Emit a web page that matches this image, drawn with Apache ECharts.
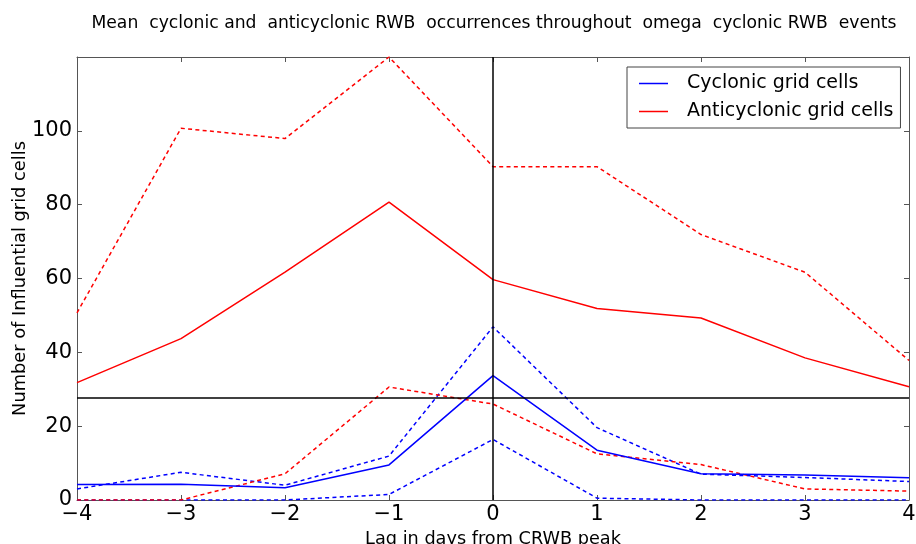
<!DOCTYPE html>
<html>
<head>
<meta charset="utf-8">
<script src="https://cdn.jsdelivr.net/npm/echarts@6/dist/echarts.min.js"></script>
<style>
  html, body { margin: 0; padding: 0; background: #fff; }
  #main { width: 916px; height: 544px; }
</style>
</head>
<body>
<div id="main"></div>
<script>
// 数据
var lags = [-4, -3, -2, -1, 0, 1, 2, 3, 4];
var cycMean = [4.2, 4.3, 3.3, 9.5, 33.7, 13.5, 7.1, 6.8, 6.0];
var cycUpper = [3.0, 7.5, 4.0, 11.9, 46.9, 19.6, 7.0, 6.1, 5.0];
var cycLower = [0, 0, 0, 1.5, 16.4, 0.5, 0, 0, 0];
var antiMean = [31.8, 43.7, 61.7, 80.7, 59.7, 51.9, 49.3, 38.5, 30.7];
var antiUpper = [50.7, 100.7, 97.9, 120, 90.3, 90.3, 71.9, 61.7, 37.8];
var antiLower = [0, 0, 7.1, 30.6, 26.0, 12.5, 9.6, 3.0, 2.4];
var yTicks = [0, 20, 40, 60, 80, 100];
var thresholdValue = 27.6;
var peakLag = 0;

var FONT = 'DejaVu Sans';

function pairs(vals) {
    return lags.map(function (x, i) { return [x, vals[i]]; });
}

function mkLine(name, vals, color, dashed) {
    return {
        name: name,
        type: 'line',
        data: pairs(vals),
        symbol: 'none',
        silent: true,
        animation: false,
        lineStyle: { color: color, width: 1.5, type: dashed ? [4, 3.3] : 'solid' },
        itemStyle: { color: color }
    };
}

var chart = echarts.init(document.getElementById('main'), null, { renderer: 'canvas' });

var frameColor = '#555';
var tickLabel = function (v) { return String(v).replace('-', '\u2212'); };

var option = {
    animation: false,
    backgroundColor: '#fff',
    title: {
        text: 'Mean  cyclonic and  anticyclonic RWB  occurrences throughout  omega  cyclonic RWB  events',
        left: 489, textAlign: 'center',
        top: 10,
        textStyle: { fontFamily: FONT, fontSize: 17.2, fontWeight: 'normal', color: '#000' }
    },
    legend: {
        data: ['Cyclonic grid cells', 'Anticyclonic grid cells'],
        orient: 'vertical',
        left: 627, top: 67,
        padding: [7, 7, 7, 12],
        icon: 'rect',
        itemWidth: 29, itemHeight: 1.5, itemGap: 9,
        borderColor: '#444', borderWidth: 1,
        backgroundColor: '#fff',
        textStyle: { fontFamily: FONT, fontSize: 19, color: '#000', padding: [0, 0, 0, 14] }
    },
    grid: { left: 77, right: 7, top: 57, bottom: 44, outerBoundsMode: 'none', containLabel: false },
    xAxis: [{
        type: 'value', min: -4, max: 4, interval: 1,
        name: 'Lag in days from CRWB peak', nameLocation: 'middle', nameGap: 26,
        nameTextStyle: { fontFamily: FONT, fontSize: 17.7, color: '#000' },
        axisLine: { onZero: false, lineStyle: { color: frameColor, width: 1 } },
        axisTick: { inside: true, length: 5, lineStyle: { color: frameColor } },
        axisLabel: { fontFamily: FONT, fontSize: 21, color: '#000', margin: 4, formatter: tickLabel },
        splitLine: { show: false }
    }, {
        type: 'value', min: -4, max: 4, interval: 1, position: 'top',
        axisLine: { onZero: false, lineStyle: { color: frameColor, width: 1 } },
        axisTick: { inside: true, length: 5, lineStyle: { color: frameColor } },
        axisLabel: { show: false },
        splitLine: { show: false }
    }],
    yAxis: [{
        type: 'value', min: 0, max: 120, interval: 20,
        name: 'Number of Influential grid cells', nameLocation: 'middle', nameGap: 48,
        nameMoveOverlap: false,
        nameTextStyle: { fontFamily: FONT, fontSize: 17.8, color: '#000' },
        axisLine: { show: true, onZero: false, lineStyle: { color: frameColor, width: 1 } },
        axisTick: { inside: true, length: 5, lineStyle: { color: frameColor } },
        axisLabel: {
            fontFamily: FONT, fontSize: 21, color: '#000', margin: 5,
            formatter: function (v) { return yTicks.indexOf(v) >= 0 ? tickLabel(v) : ''; }
        },
        splitLine: { show: false }
    }, {
        type: 'value', min: 0, max: 120, interval: 20, position: 'right',
        axisLine: { show: true, onZero: false, lineStyle: { color: frameColor, width: 1 } },
        axisTick: { inside: true, length: 5, lineStyle: { color: frameColor } },
        axisLabel: { show: false },
        splitLine: { show: false }
    }],
    series: [
        mkLine('Cyclonic upper', cycUpper, '#0000ff', true),
        mkLine('Cyclonic lower', cycLower, '#0000ff', true),
        mkLine('Anticyclonic upper', antiUpper, '#ff0000', true),
        mkLine('Anticyclonic lower', antiLower, '#ff0000', true),
        mkLine('Cyclonic grid cells', cycMean, '#0000ff', false),
        mkLine('Anticyclonic grid cells', antiMean, '#ff0000', false)
    ]
};

// 参考线：x=0 竖线，阈值横线
option.series[5].markLine = {
    silent: true,
    symbol: 'none',
    label: { show: false },
    lineStyle: { color: '#000', width: 1.5, type: 'solid' },
    data: [{ xAxis: peakLag }, { yAxis: thresholdValue }]
};

chart.setOption(option);
</script>
</body>
</html>
